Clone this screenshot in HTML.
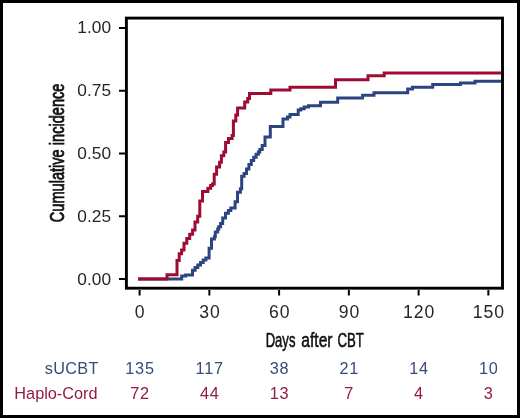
<!DOCTYPE html>
<html><head><meta charset="utf-8"><style>
html,body{margin:0;padding:0;background:#fff;}
body{width:520px;height:418px;overflow:hidden;}
.frame{position:absolute;left:0;top:0;width:514px;height:412px;border:3px solid #000;background:#fff;}
svg{position:absolute;left:0;top:0;will-change:transform;}
text{font-family:"Liberation Sans",sans-serif;}
.yl{font-size:17.3px;text-anchor:end;fill:#262626;}
.xl{font-size:17.6px;text-anchor:middle;fill:#262626;letter-spacing:1px;}
.n1{font-size:16.3px;letter-spacing:0.8px;text-anchor:middle;fill:#384b7c;}
.n2{font-size:16.3px;letter-spacing:0.8px;text-anchor:middle;fill:#941a45;}
.l1{font-size:16.3px;letter-spacing:0.3px;text-anchor:end;fill:#384b7c;}
.l2{font-size:16.3px;text-anchor:end;fill:#941a45;}
.tx{stroke-width:0.6px !important;}
.t{font-size:21px;text-anchor:middle;fill:#111;stroke:#111;stroke-width:0.8px;}
</style></head><body>
<div class="frame"></div>
<svg width="520" height="418" viewBox="0 0 520 418">
<rect x="126.4" y="18.1" width="376.1" height="270.1" fill="none" stroke="#000" stroke-width="2.9"/>
<line x1="119" y1="28.0" x2="125" y2="28.0" stroke="#000" stroke-width="2"/>
<line x1="119" y1="90.75" x2="125" y2="90.75" stroke="#000" stroke-width="2"/>
<line x1="119" y1="153.5" x2="125" y2="153.5" stroke="#000" stroke-width="2"/>
<line x1="119" y1="216.25" x2="125" y2="216.25" stroke="#000" stroke-width="2"/>
<line x1="119" y1="279.0" x2="125" y2="279.0" stroke="#000" stroke-width="2"/>
<line x1="139.60" y1="290" x2="139.60" y2="295.5" stroke="#000" stroke-width="2"/>
<line x1="209.35" y1="290" x2="209.35" y2="295.5" stroke="#000" stroke-width="2"/>
<line x1="279.10" y1="290" x2="279.10" y2="295.5" stroke="#000" stroke-width="2"/>
<line x1="348.85" y1="290" x2="348.85" y2="295.5" stroke="#000" stroke-width="2"/>
<line x1="418.60" y1="290" x2="418.60" y2="295.5" stroke="#000" stroke-width="2"/>
<line x1="488.35" y1="290" x2="488.35" y2="295.5" stroke="#000" stroke-width="2"/>
<path d="M138.0,279.0H181.7V276.0H185.6V274.9H192.5V270.3H195.1V267.6H197.8V264.9H200.5V262.6H203.2V260.0H205.9V258.0H209.1V248.2H211.5V239.1H214.4V236.7H215.3V232.0H217.7V229.1H218.7V226.7H220.6V223.5H222.7V218.0H225.5V213.2H228.4V210.4H230.8V208.0H235.1V201.7H237.5V192.2H240.4V188.8H241.7V176.3H244.1V173.4H246.5V169.1H248.9V164.4H251.3V160.5H253.7V157.2H256.1V154.3H258.4V151.9H259.8V149.4H262.2V145.6H265.0V137.0H270.3V126.5H283.0V119.0H287.5V117.0H290.0V114.5H298.2V110.1H300.8V108.8H304.2V107.1H308.5V105.8H320.5V102.2H337.7V98.0H362.6V95.3H374.0V92.8H407.7V89.0H412.5V87.2H432.7V84.5H460.4V83.1H475.0V81.2H501.0" fill="none" stroke="#2c4480" stroke-width="3" stroke-linejoin="miter" stroke-linecap="butt"/>
<path d="M138.0,279.0H167.0V274.7H177.0V260.5H179.2V253.8H181.6V250.0H184.0V243.3H186.8V238.5H189.7V234.2H192.6V229.9H195.0V222.1H197.7V216.2H199.8V201.1H202.5V191.5H205.8V191.5H207.9V188.2H210.6V185.5H212.5V184.0H214.2V174.3H216.6V167.1H219.6V162.3H221.4V155.7H223.8V152.1H225.6V142.6H228.5V138.4H232.1V135.4H233.4V121.1H235.8V115.1H237.6V108.0H244.7V102.0H247.7V98.4H249.5V93.6H270.8V89.9H290.0V87.2H335.5V79.7H368.0V75.8H384.2V72.9H501.0" fill="none" stroke="#9e0b33" stroke-width="3" stroke-linejoin="miter" stroke-linecap="butt"/>
<text x="111" y="32.90" class="yl">1.00</text>
<text x="111" y="96.45" class="yl">0.75</text>
<text x="111" y="159.20" class="yl">0.50</text>
<text x="111" y="221.95" class="yl">0.25</text>
<text x="111" y="284.70" class="yl">0.00</text>
<text x="140.20" y="317.9" class="xl">0</text>
<text x="209.95" y="317.9" class="xl">30</text>
<text x="279.70" y="317.9" class="xl">60</text>
<text x="349.45" y="317.9" class="xl">90</text>
<text x="419.20" y="317.9" class="xl">120</text>
<text x="488.95" y="317.9" class="xl">150</text>
<text x="140.00" y="374.2" class="n1">135</text>
<text x="209.75" y="374.2" class="n1">117</text>
<text x="279.50" y="374.2" class="n1">38</text>
<text x="349.25" y="374.2" class="n1">21</text>
<text x="419.00" y="374.2" class="n1">14</text>
<text x="488.75" y="374.2" class="n1">10</text>
<text x="140.00" y="399.1" class="n2">72</text>
<text x="209.75" y="399.1" class="n2">44</text>
<text x="279.50" y="399.1" class="n2">13</text>
<text x="349.25" y="399.1" class="n2">7</text>
<text x="419.00" y="399.1" class="n2">4</text>
<text x="488.75" y="399.1" class="n2">3</text>
<text x="98.7" y="374.2" class="l1">sUCBT</text>
<text x="97.6" y="399.1" class="l2">Haplo-Cord</text>
<text transform="translate(280.55,346.8) scale(0.621,1)" class="t tx">Days</text>
<text transform="translate(316.9,346.8) scale(0.744,1)" class="t tx">after</text>
<text transform="translate(350.65,346.8) scale(0.629,1)" class="t tx">CBT</text>
<text transform="translate(63.9,152.9) rotate(-90) scale(0.695,1)" class="t">Cumulative incidence</text>
</svg>
</body></html>
